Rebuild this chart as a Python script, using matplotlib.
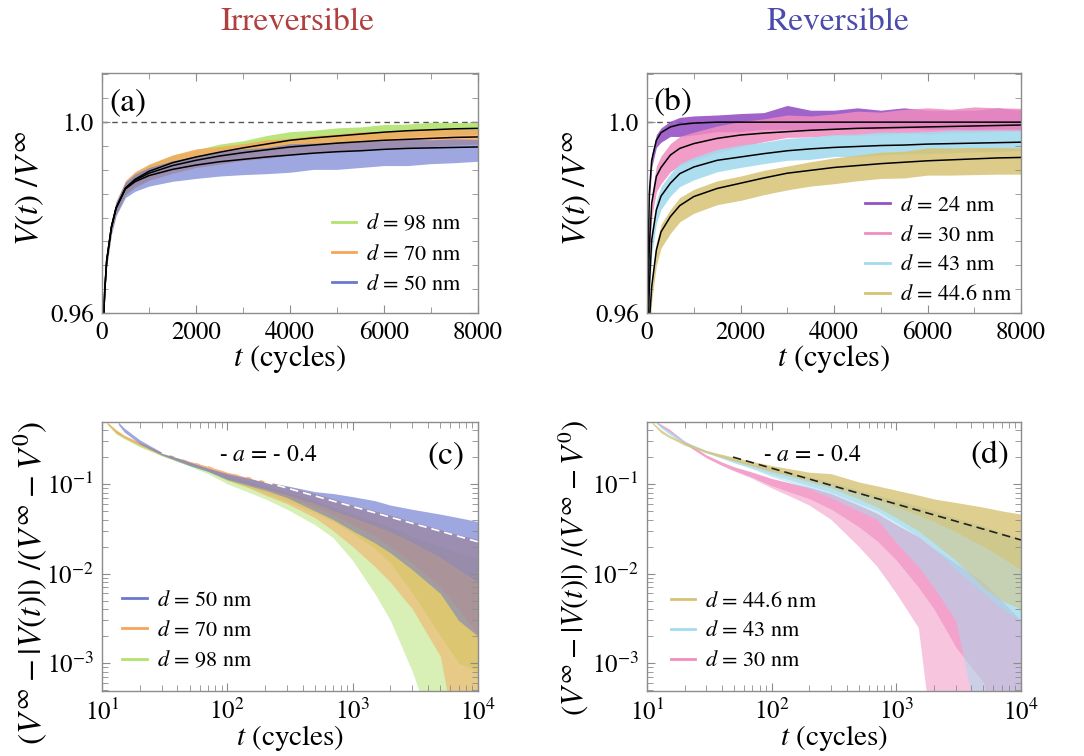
import numpy as np
import matplotlib
matplotlib.use("Agg")
import matplotlib.pyplot as plt
from matplotlib.lines import Line2D
from matplotlib.ticker import MultipleLocator, LogLocator, NullFormatter

plt.rcParams['font.family'] = ['STIXGeneral', 'DejaVu Serif']
plt.rcParams['mathtext.fontset'] = 'stix'

# ---- colours
c98, c70, c50 = '#b3e36f', '#f6a55a', '#6a78cf'
c24, c30, c43, c446 = '#9552c4', '#f08cbf', '#a3dbee', '#d6c274'

# ---- panel (a): irreversible, V(t)/V_inf
ta = [30, 60, 100, 200, 300, 500, 700, 1000, 1500, 2000, 2500, 3000, 3500,
      4000, 4500, 5000, 5500, 6000, 6500, 7000, 7500, 8000]
fit98 = [0.958, 0.965, 0.971, 0.978, 0.982, 0.9862, 0.9880, 0.9897, 0.9915, 0.9927, 0.9937,
         0.9946, 0.9954, 0.9962, 0.9967, 0.9971, 0.9975, 0.9979, 0.9982, 0.9984, 0.9986, 0.9987]
fit70 = [0.958, 0.965, 0.971, 0.978, 0.982, 0.9862, 0.9878, 0.9893, 0.9909, 0.9920, 0.9929,
         0.9936, 0.9942, 0.9948, 0.9952, 0.9956, 0.9959, 0.9962, 0.9964, 0.9966, 0.9968, 0.9969]
fit50 = [0.958, 0.965, 0.971, 0.978, 0.982, 0.9860, 0.9875, 0.9888, 0.9901, 0.9910, 0.9917,
         0.9922, 0.9927, 0.9931, 0.9935, 0.9938, 0.9940, 0.9943, 0.9945, 0.9946, 0.9947, 0.9948]
# spread of the noisy data around each fit (below, above)
dn98 = [0.001, 0.001, 0.001, 0.0012, 0.0012, 0.0013, 0.0014, 0.0015, 0.0014, 0.0015, 0.0013,
        0.0015, 0.0014, 0.0015, 0.0013, 0.0014, 0.0012, 0.0014, 0.0013, 0.0012, 0.0013, 0.0012]
up98 = [0.001, 0.001, 0.001, 0.0012, 0.0012, 0.0013, 0.0014, 0.0014, 0.0016, 0.0015, 0.0017,
        0.0015, 0.0018, 0.0018, 0.0016, 0.0017, 0.0015, 0.0016, 0.0014, 0.0016, 0.0013, 0.0012]
dn70 = [0.001, 0.001, 0.0012, 0.0013, 0.0013, 0.0014, 0.0015, 0.0015, 0.0016, 0.0015, 0.0017,
        0.0016, 0.0018, 0.0017, 0.0016, 0.0018, 0.0017, 0.0016, 0.0018, 0.0017, 0.0016, 0.0015]
up70 = [0.001, 0.001, 0.0012, 0.0013, 0.0014, 0.0016, 0.0018, 0.0019, 0.0022, 0.0024, 0.0020,
        0.0019, 0.0021, 0.0018, 0.0020, 0.0019, 0.0021, 0.0018, 0.0020, 0.0019, 0.0018, 0.0016]
dn50 = [0.001, 0.0012, 0.0013, 0.0015, 0.0016, 0.0018, 0.0020, 0.0022, 0.0025, 0.0028, 0.0030,
        0.0032, 0.0035, 0.0036, 0.0034, 0.0037, 0.0035, 0.0034, 0.0036, 0.0033, 0.0032, 0.0030]
up50 = [0.001, 0.0012, 0.0013, 0.0014, 0.0014, 0.0015, 0.0016, 0.0017, 0.0018, 0.0019, 0.0021,
        0.0022, 0.0020, 0.0024, 0.0021, 0.0020, 0.0019, 0.0018, 0.0019, 0.0017, 0.0018, 0.0016]

# ---- panel (b): reversible, V(t)/V_inf
tb = [20, 50, 100, 200, 300, 500, 700, 1000, 1500, 2000, 2500, 3000, 3500,
      4000, 4500, 5000, 5500, 6000, 6500, 7000, 7500, 8000]
fit24 = [0.970, 0.9851, 0.9920, 0.9962, 0.9978, 0.9990, 0.9995, 0.9998, 1.0, 1.0, 1.0,
         1.0, 1.0, 1.0, 1.0, 1.0, 1.0, 1.0, 1.0, 1.0, 1.0, 1.0]
fit30 = [0.962, 0.9739, 0.9830, 0.9886, 0.9905, 0.9931, 0.9945, 0.9955, 0.9966, 0.9973, 0.9977,
         0.9980, 0.9983, 0.9985, 0.9987, 0.9988, 0.9989, 0.9990, 0.9991, 0.9992, 0.9993, 0.9994]
fit43 = [0.955, 0.9655, 0.9753, 0.9816, 0.9845, 0.9872, 0.9892, 0.9906, 0.9920, 0.9927, 0.9934,
         0.9940, 0.9944, 0.9947, 0.9949, 0.9951, 0.9952, 0.9954, 0.9955, 0.9956, 0.9957, 0.9958]
fit446 = [0.945, 0.958, 0.9655, 0.9732, 0.9770, 0.9802, 0.9825, 0.9844, 0.9861, 0.9872, 0.9883,
          0.9893, 0.9899, 0.9905, 0.9909, 0.9913, 0.9916, 0.9919, 0.9921, 0.9923, 0.9925, 0.9926]
dn24 = [0.003, 0.002, 0.0015, 0.0015, 0.002, 0.002, 0.0025, 0.0025, 0.002, 0.002, 0.0015,
        0.0015, 0.0016, 0.0015, 0.0014, 0.0015, 0.0013, 0.0015, 0.0014, 0.0015, 0.0014, 0.0015]
up24 = [0.002, 0.0015, 0.0012, 0.0012, 0.001, 0.0012, 0.0015, 0.0015, 0.0015, 0.0018, 0.0020,
        0.0035, 0.0025, 0.0025, 0.0030, 0.0025, 0.0030, 0.0025, 0.0025, 0.0025, 0.0030, 0.0025]
dn30 = [0.003, 0.003, 0.003, 0.0032, 0.0034, 0.0035, 0.0036, 0.0035, 0.0030, 0.0025, 0.0018,
        0.0012, 0.0014, 0.0013, 0.0015, 0.0014, 0.0012, 0.0015, 0.0013, 0.0014, 0.0012, 0.0013]
up30 = [0.002, 0.002, 0.002, 0.0022, 0.0024, 0.0024, 0.0025, 0.0024, 0.0026, 0.0028, 0.0030,
        0.0035, 0.0030, 0.0032, 0.0036, 0.0033, 0.0038, 0.0040, 0.0036, 0.0040, 0.0037, 0.0035]
dn43 = [0.003, 0.003, 0.003, 0.0028, 0.0028, 0.0027, 0.0027, 0.0027, 0.0024, 0.0022, 0.0021,
        0.0020, 0.0022, 0.0019, 0.0021, 0.0020, 0.0018, 0.0020, 0.0019, 0.0018, 0.0019, 0.0017]
up43 = [0.002, 0.002, 0.002, 0.002, 0.002, 0.002, 0.0021, 0.0020, 0.0023, 0.0025, 0.0024,
        0.0026, 0.0025, 0.0027, 0.0026, 0.0028, 0.0027, 0.0026, 0.0028, 0.0027, 0.0026, 0.0025]
dn446 = [0.003, 0.003, 0.003, 0.0032, 0.0034, 0.0035, 0.0034, 0.0035, 0.0034, 0.0036, 0.0035,
         0.0035, 0.0033, 0.0034, 0.0032, 0.0031, 0.0033, 0.0030, 0.0032, 0.0033, 0.0034, 0.0035]
up446 = [0.002, 0.002, 0.0015, 0.0015, 0.0016, 0.0015, 0.0017, 0.0015, 0.0016, 0.0015, 0.0016,
         0.0015, 0.0018, 0.0020, 0.0022, 0.0024, 0.0023, 0.0027, 0.0025, 0.0024, 0.0022, 0.0020]

# ---- panel (c): irreversible, normalised distance to V_inf (log-log)
tc50 = [13.5, 15, 20, 30, 50, 70, 100, 150, 200, 300, 500, 700, 1000, 1500, 2000, 3000,
        5000, 7000, 10000]
hi_c50 = [0.49, 0.42, 0.31, 0.225, 0.175, 0.15, 0.13, 0.115, 0.105, 0.095, 0.082, 0.078,
          0.072, 0.065, 0.058, 0.052, 0.046, 0.042, 0.038]
lo_c50 = [0.46, 0.38, 0.28, 0.21, 0.16, 0.138, 0.112, 0.097, 0.088, 0.075, 0.06, 0.05,
          0.042, 0.034, 0.029, 0.022, 0.015, 0.011, 0.008]
sp_c50 = [0.46, 0.38, 0.28, 0.21, 0.16, 0.138, 0.112, 0.095, 0.085, 0.07, 0.05, 0.04,
          0.03, 0.022, 0.017, 0.011, 0.006, 0.003, 0.002]
tc = [11, 13, 15, 20, 30, 50, 70, 100, 150, 200, 300, 500, 700, 1000, 1500, 2000, 3000,
      5000, 7000, 10000]
hi_c70 = [0.49, 0.40, 0.35, 0.29, 0.225, 0.18, 0.16, 0.135, 0.12, 0.108, 0.094, 0.078,
          0.068, 0.058, 0.05, 0.045, 0.038, 0.031, 0.027, 0.024]
lo_c70 = [0.47, 0.37, 0.33, 0.27, 0.21, 0.165, 0.145, 0.118, 0.1, 0.088, 0.072, 0.055,
          0.045, 0.035, 0.026, 0.02, 0.013, 0.007, 0.004, 0.002]
sp_c70 = [0.47, 0.37, 0.33, 0.27, 0.21, 0.165, 0.14, 0.11, 0.09, 0.075, 0.06, 0.042,
          0.03, 0.02, 0.012, 0.008, 0.004, 0.0012, 0.0001, 0.0001]
hi_c98 = [0.48, 0.39, 0.34, 0.28, 0.22, 0.172, 0.148, 0.122, 0.104, 0.094, 0.08, 0.065,
          0.055, 0.046, 0.038, 0.033, 0.026, 0.02, 0.017, 0.015]
lo_c98 = [0.46, 0.36, 0.32, 0.26, 0.205, 0.158, 0.135, 0.108, 0.09, 0.078, 0.063, 0.047,
          0.038, 0.028, 0.019, 0.013, 0.006, 0.002, 0.001, 0.0008]
sp_c98 = [0.46, 0.36, 0.32, 0.26, 0.205, 0.158, 0.13, 0.1, 0.08, 0.068, 0.052, 0.035,
          0.025, 0.014, 0.006, 0.003, 0.0008, 0.0001, 0.0001, 0.0001]
ref_tc = [30, 10000]
ref_yc = [0.222, 0.0226]

# ---- panel (d): reversible, normalised distance to V_inf (log-log)
hi_d446 = [0.49, 0.40, 0.35, 0.29, 0.235, 0.198, 0.178, 0.16, 0.145, 0.135, 0.13, 0.105,
           0.095, 0.085, 0.075, 0.068, 0.062, 0.055, 0.05, 0.046]
lo_d446 = [0.47, 0.37, 0.33, 0.27, 0.222, 0.18, 0.158, 0.138, 0.122, 0.112, 0.098, 0.078,
           0.067, 0.055, 0.045, 0.038, 0.029, 0.02, 0.015, 0.011]
sp_d446 = [0.47, 0.37, 0.33, 0.27, 0.222, 0.18, 0.158, 0.135, 0.118, 0.105, 0.09, 0.068,
           0.055, 0.042, 0.03, 0.022, 0.014, 0.007, 0.005, 0.004]
td43 = [12, 13, 15, 20, 30, 50, 70, 100, 150, 200, 300, 500, 700, 1000, 1500, 2000, 3000,
        5000, 7000, 10000]
hi_d43 = [0.49, 0.45, 0.39, 0.30, 0.235, 0.19, 0.165, 0.15, 0.13, 0.12, 0.105, 0.085,
          0.075, 0.066, 0.056, 0.05, 0.042, 0.034, 0.029, 0.024]
lo_d43 = [0.47, 0.42, 0.36, 0.28, 0.222, 0.172, 0.148, 0.125, 0.108, 0.095, 0.08, 0.06,
          0.05, 0.037, 0.026, 0.019, 0.011, 0.006, 0.004, 0.003]
sp_d43 = [0.47, 0.42, 0.36, 0.28, 0.222, 0.172, 0.148, 0.12, 0.1, 0.088, 0.07, 0.05,
          0.04, 0.022, 0.012, 0.007, 0.003, 0.0001, 0.0001, 0.0001]
td30 = [12, 13, 15, 20, 30, 40, 50, 70, 100, 150, 200, 300, 500, 700, 1000, 1500, 2000,
        3000, 5000, 7000, 10000]
hi_d30 = [0.49, 0.46, 0.41, 0.30, 0.21, 0.175, 0.155, 0.135, 0.115, 0.1, 0.092, 0.078,
          0.058, 0.047, 0.035, 0.026, 0.019, 0.013, 0.008, 0.005, 0.003]
lo_d30 = [0.47, 0.43, 0.38, 0.28, 0.195, 0.16, 0.14, 0.118, 0.095, 0.078, 0.068, 0.052,
          0.033, 0.023, 0.014, 0.007, 0.004, 0.0015, 0.0006, 0.0001, 0.0001]
sp_d30 = [0.47, 0.43, 0.38, 0.28, 0.195, 0.16, 0.14, 0.115, 0.09, 0.07, 0.058, 0.04,
          0.02, 0.012, 0.006, 0.0025, 0.0001, 0.0001, 0.0001, 0.0001, 0.0001]
ref_td = [49, 10000]
ref_yd = [0.199, 0.0237]

W, H = 1084, 756
fig = plt.figure(figsize=(W / 100, H / 100), dpi=100)


def px_axes(x0, y0, x1, y1):
    return fig.add_axes([x0 / W, 1 - y1 / H, (x1 - x0) / W, (y1 - y0) / H])


ax_a = px_axes(102, 73, 478, 313)
ax_b = px_axes(647, 73, 1021, 313)
ax_c = px_axes(102, 422, 478, 691)
ax_d = px_axes(647, 422, 1021, 691)

for ax in (ax_a, ax_b, ax_c, ax_d):
    for s in ax.spines.values():
        s.set_color('#8c8c8c')
        s.set_linewidth(1.0)
    ax.tick_params(which='both', direction='in', top=True, right=True,
                   color='#8c8c8c', labelsize=18, pad=6)
    ax.tick_params(which='major', length=6)
    ax.tick_params(which='minor', length=4)


def band(ax, t, fit, dn, up, col, alpha):
    f = np.array(fit)
    ax.fill_between(t, f - np.array(dn), f + np.array(up), color=col, alpha=alpha, lw=0)


# (a)
band(ax_a, ta, fit98, dn98, up98, c98, 0.9)
band(ax_a, ta, fit70, dn70, up70, c70, 0.8)
band(ax_a, ta, fit50, dn50, up50, c50, 0.65)
for f in (fit98, fit70, fit50):
    ax_a.plot(ta, f, color='k', lw=1.1)

# (b)
band(ax_b, tb, fit24, dn24, up24, c24, 0.9)
band(ax_b, tb, fit30, dn30, up30, c30, 0.85)
band(ax_b, tb, fit43, dn43, up43, c43, 0.9)
band(ax_b, tb, fit446, dn446, up446, c446, 0.85)
for f in (fit24, fit30, fit43, fit446):
    ax_b.plot(tb, f, color='k', lw=1.1)

for ax in (ax_a, ax_b):
    ax.axhline(1.0, color='#555555', lw=1.0, ls=(0, (4, 3)), zorder=0.5)
    ax.set_xlim(0, 8000)
    ax.set_ylim(0.96, 1.0103)
    ax.set_xticks([0, 2000, 4000, 6000, 8000])
    ax.xaxis.set_minor_locator(MultipleLocator(1000))
    ax.set_yticks([0.96, 1.0])
    ax.set_yticklabels(['0.96', '1.0'])
    ax.yaxis.set_minor_locator(MultipleLocator(0.005))
    ax.set_xlabel(r'$t$ (cycles)', fontsize=22)
    ax.set_ylabel(r'$V(t)\ /V^{\infty}$', fontsize=24)
    ax.xaxis.set_label_coords(0.5, -0.125)
ax_a.yaxis.set_label_coords(-0.15, 0.52)
ax_b.yaxis.set_label_coords(-0.145, 0.52)

# (c)
for t, hi, lo, sp, col in ((tc, hi_c98, lo_c98, sp_c98, c98),
                           (tc, hi_c70, lo_c70, sp_c70, c70),
                           (tc50, hi_c50, lo_c50, sp_c50, c50)):
    ax_c.fill_between(t, sp, lo, color=col, alpha=0.5, lw=0)
    ax_c.fill_between(t, lo, hi, color=col, alpha=0.8 if col != c50 else 0.65, lw=0)
ax_c.plot(ref_tc, ref_yc, color='white', lw=1.2, ls=(0, (5, 3)))

# (d)
for t, hi, lo, sp, col in ((td30, hi_d30, lo_d30, sp_d30, c30),
                           (td43, hi_d43, lo_d43, sp_d43, c43),
                           (tc, hi_d446, lo_d446, sp_d446, c446)):
    ax_d.fill_between(t, sp, lo, color=col, alpha=0.5, lw=0)
    ax_d.fill_between(t, lo, hi, color=col, alpha=0.8, lw=0)
ax_d.plot(ref_td, ref_yd, color='#222222', lw=1.2, ls=(0, (5, 3)))

for ax in (ax_c, ax_d):
    ax.set_xscale('log')
    ax.set_yscale('log')
    ax.set_xlim(10, 1e4)
    ax.set_ylim(4.9e-4, 0.49)
    ax.xaxis.set_major_locator(LogLocator(base=10, numticks=10))
    ax.yaxis.set_major_locator(LogLocator(base=10, numticks=10))
    ax.xaxis.set_minor_locator(LogLocator(base=10, subs=np.arange(2, 10), numticks=20))
    ax.yaxis.set_minor_locator(LogLocator(base=10, subs=np.arange(2, 10), numticks=20))
    ax.xaxis.set_minor_formatter(NullFormatter())
    ax.yaxis.set_minor_formatter(NullFormatter())
    ax.set_xlabel(r'$t$ (cycles)', fontsize=21)
    ax.xaxis.set_label_coords(0.5, -0.118)
    ax.text(0.31, 0.877, r'- $a$ = - 0.4', transform=ax.transAxes, fontsize=17,
            ha='left', va='center')
ax_c.set_ylabel(r'$(V^{\infty}-|V(t)|)\ /(V^{\infty}-V^{0})$', fontsize=24)
ax_c.yaxis.set_label_coords(-0.138, 0.40)
ax_d.set_ylabel(r'$(V^{\infty}-|V(t)|)\ /(V^{\infty}-V^{0})$', fontsize=22)
ax_d.yaxis.set_label_coords(-0.152, 0.46)

# panel letters
ax_a.text(0.02, 0.94, '(a)', transform=ax_a.transAxes, fontsize=24, ha='left', va='top')
ax_b.text(0.017, 0.94, '(b)', transform=ax_b.transAxes, fontsize=24, ha='left', va='top')
ax_c.text(0.965, 0.93, '(c)', transform=ax_c.transAxes, fontsize=24, ha='right', va='top')
ax_d.text(0.968, 0.93, '(d)', transform=ax_d.transAxes, fontsize=24, ha='right', va='top')


def leg(ax, cols, labels, loc, anchor):
    hs = [Line2D([0], [0], color=c, lw=2) for c in cols]
    ax.legend(hs, labels, loc=loc, bbox_to_anchor=anchor, frameon=False, fontsize=16,
              handlelength=1.1, handletextpad=0.45, labelspacing=0.42, borderaxespad=0)


leg(ax_a, [c98, c70, c50], [r'$d$ = 98 nm', r'$d$ = 70 nm', r'$d$ = 50 nm'],
    'lower right', (0.98, 0.04))
leg(ax_b, [c24, c30, c43, c446],
    [r'$d$ = 24 nm', r'$d$ = 30 nm', r'$d$ = 43 nm', r'$d$ = 44.6 nm'],
    'lower right', (1.0, -0.005))
leg(ax_c, [c50, c70, c98], [r'$d$ = 50 nm', r'$d$ = 70 nm', r'$d$ = 98 nm'],
    'lower left', (0.03, 0.04))
leg(ax_d, [c446, c43, c30], [r'$d$ = 44.6 nm', r'$d$ = 43 nm', r'$d$ = 30 nm'],
    'lower left', (0.04, 0.04))

fig.text(297 / W, 1 - 22 / H, 'Irreversible', color='#b0403f', fontsize=24,
         ha='center', va='center')
fig.text(838 / W, 1 - 22 / H, 'Reversible', color='#4b4bad', fontsize=24,
         ha='center', va='center')

fig.savefig('out.png', dpi=100)
